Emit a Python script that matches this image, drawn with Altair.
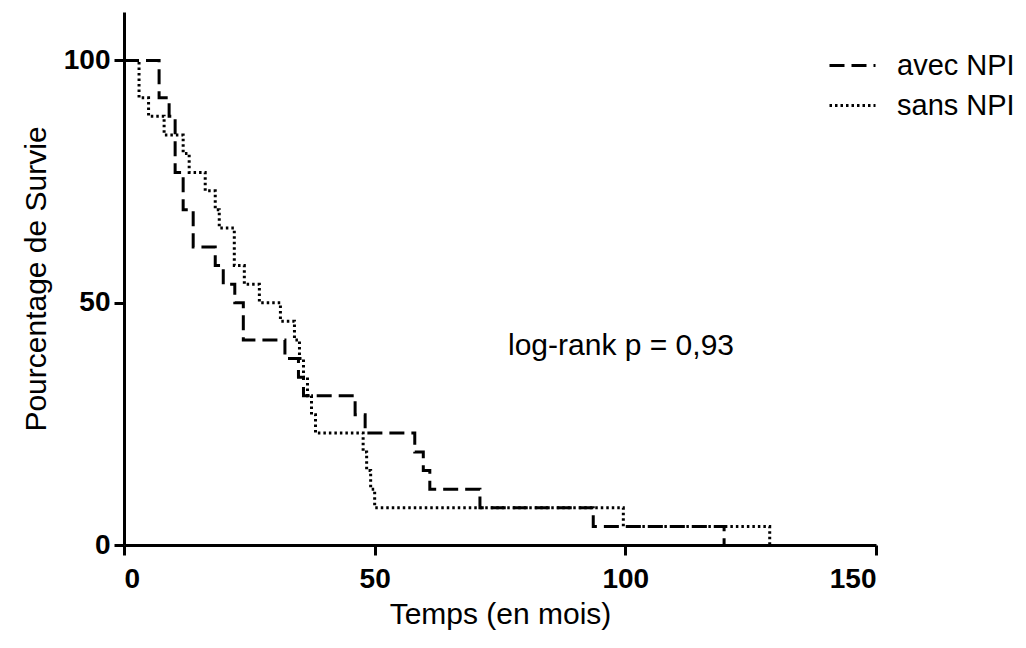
import altair as alt
import pandas as pd

# Kaplan-Meier steps (time in months, survival %)
avec_t = [0, 7.0, 9.0, 10.2, 11.8, 13.8, 18.2, 19.8, 22.1, 23.8, 32.1, 34.8, 35.8,
          46.1, 48.1, 58.0, 59.7, 61.0, 71.0, 93.6, 119.7]
avec_s = [100, 92.3, 88.5, 76.9, 69.2, 61.5, 57.7, 53.8, 50.0, 42.3, 38.5, 34.6, 30.8,
          26.9, 23.1, 19.2, 15.4, 11.5, 7.7, 3.8, 0]

sans_t = [0, 3.0, 4.9, 8.0, 11.8, 13.0, 16.2, 18.2, 19.0, 22.0, 24.0, 27.0, 31.2,
          34.0, 35.0, 35.8, 36.6, 37.4, 38.2, 47.7, 48.4, 49.2, 50.0, 99.6, 128.8]
sans_s = [100, 92.3, 88.5, 84.6, 80.8, 76.9, 73.1, 69.2, 65.4, 57.7, 53.8, 50.0, 46.2,
          42.3, 38.5, 34.6, 30.8, 26.9, 23.1, 19.2, 15.4, 11.5, 7.7, 3.8, 0]

groups = ["avec NPI", "sans NPI"]
dashes = [[15, 7], [2.5, 3]]

x_ticks = [0, 50, 100, 150]
y_ticks = [0, 50, 100]

annot_label = ["log-rank p = 0,93"]
annot_t = [76.6]
annot_s = [41.1]

FONT = "Liberation Sans"

df = pd.concat([
    pd.DataFrame({"t": avec_t, "s": avec_s, "g": groups[0]}),
    pd.DataFrame({"t": sans_t, "s": sans_s, "g": groups[1]}),
], ignore_index=True)

ann = pd.DataFrame({"t": annot_t, "s": annot_s, "label": annot_label})

xs = alt.Scale(domain=[0, 150], nice=False, zero=False)
ys = alt.Scale(domain=[0, 110], nice=False)

lines = alt.Chart(df).mark_line(
    interpolate="step-after", color="black", strokeWidth=3, clip=False
).encode(
    x=alt.X("t:Q", scale=xs, title="Temps (en mois)",
            axis=alt.Axis(values=x_ticks)),
    y=alt.Y("s:Q", scale=ys, title="Pourcentage de Survie",
            axis=alt.Axis(values=y_ticks)),
    strokeDash=alt.StrokeDash(
        "g:N",
        scale=alt.Scale(domain=groups, range=dashes),
        legend=alt.Legend(
            title=None, orient="none", legendX=704, legendY=29,
            symbolType="stroke", symbolSize=2116, symbolStrokeWidth=3,
            symbolStrokeColor="black", labelFont=FONT, labelFontSize=29,
            labelColor="black", labelOffset=20, rowPadding=-3, padding=0,
            labelLimit=200,
        ),
    ),
)

text = alt.Chart(ann).mark_text(
    align="left", baseline="middle", font=FONT, fontSize=30, color="black"
).encode(
    x=alt.X("t:Q", scale=xs),
    y=alt.Y("s:Q", scale=ys),
    text="label:N",
)

chart = alt.layer(lines, text).properties(
    width=752, height=533,
    autosize="none",
    padding={"left": 116, "top": 4, "right": 142, "bottom": 94},
).configure_view(stroke=None).configure_axis(
    domainColor="black", domainWidth=3, tickColor="black", tickWidth=3,
    tickSize=10, labelFont=FONT, labelFontSize=28, labelFontWeight="bold",
    labelColor="black", titleFont=FONT, titleFontSize=30,
    titleFontWeight="normal", titleColor="black", grid=False,
).configure_axisX(
    labelPadding=10, titlePadding=6,
).configure_axisY(
    labelPadding=4, titlePadding=12,
)

chart.save("out.html", embed_options={"renderer": "svg", "actions": False})
